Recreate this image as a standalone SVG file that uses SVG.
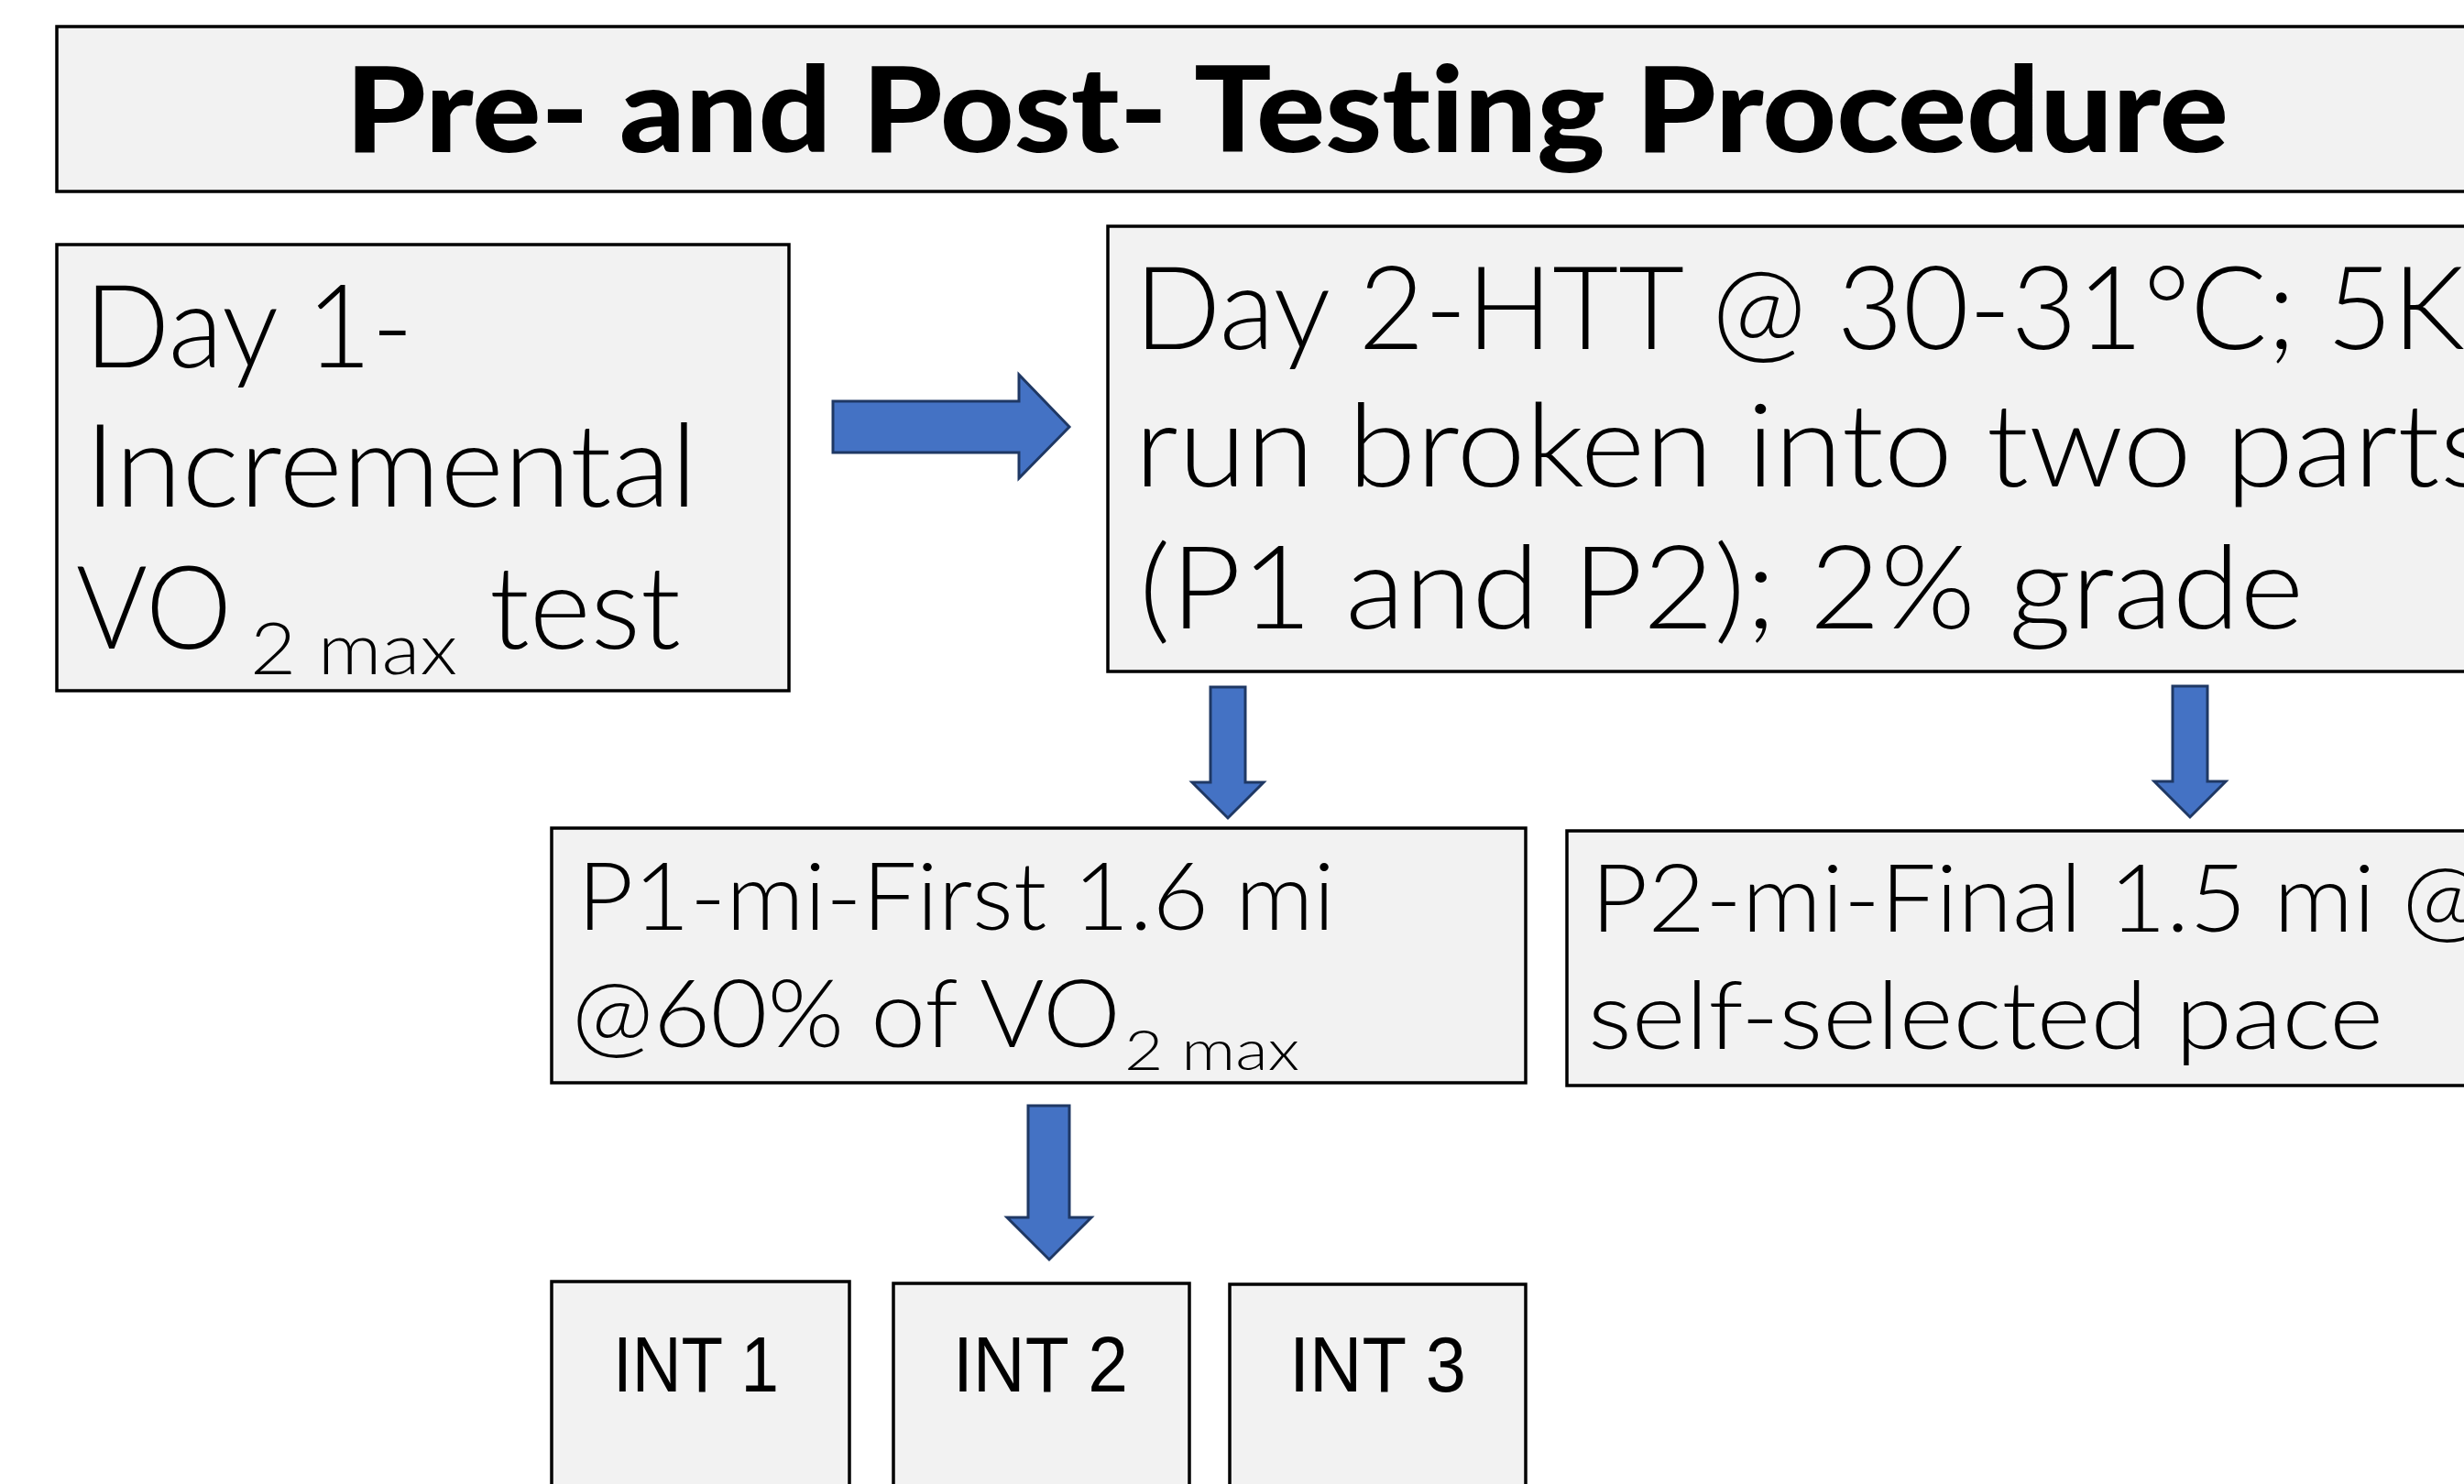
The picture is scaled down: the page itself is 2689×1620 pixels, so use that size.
<svg xmlns="http://www.w3.org/2000/svg" width="2689" height="1620" viewBox="0 0 2689 1620">
  <style>
    text { font-variant-ligatures: none; font-feature-settings: "liga" 0, "dlig" 0; }
    .box { fill: #F2F2F2; stroke: #000000; stroke-width: 3.5; }
    .arrow { fill: #4472C4; stroke: #1F3864; stroke-width: 3; stroke-linejoin: miter; }
    .title { font-family: "Lato", "Liberation Sans", sans-serif; font-weight: 900; font-size: 130px; fill: #000; }
    .big { font-family: "Lato", "Liberation Sans", sans-serif; font-weight: 300; font-size: 127px; fill: #000; }
    .mid { font-family: "Lato", "Liberation Sans", sans-serif; font-weight: 300; font-size: 103px; fill: #000; }
    .subbig { font-family: "Lato", "Liberation Sans", sans-serif; font-weight: 300; font-size: 78px; fill: #000; }
    .submid { font-family: "Lato", "Liberation Sans", sans-serif; font-weight: 300; font-size: 62px; fill: #000; }
    .int { font-family: "Liberation Sans", "Lato", sans-serif; font-weight: 400; font-size: 86px; fill: #000; }
  </style>
  <rect width="2689" height="1620" fill="#FFFFFF"/>

  <g id="title">
    <rect class="box" x="62" y="29" width="2700" height="180"/>
    <text class="title" x="377" y="166" textLength="2055" lengthAdjust="spacingAndGlyphs">Pre- and Post- Testing Procedure</text>
  </g>

  <g id="day1">
    <rect class="box" x="62" y="267" width="799" height="487"/>
    <text class="big" x="92" y="401" textLength="359" lengthAdjust="spacingAndGlyphs">Day 1-</text>
    <text class="big" x="92" y="553" textLength="669" lengthAdjust="spacingAndGlyphs">Incremental</text>
    <text class="big" x="83" y="708" textLength="170" lengthAdjust="spacingAndGlyphs">VO</text>
    <text class="subbig" x="273" y="736" textLength="226" lengthAdjust="spacingAndGlyphs">2 max</text>
    <text class="big" x="534" y="708" textLength="209" lengthAdjust="spacingAndGlyphs">test</text>
  </g>

  <g id="day2">
    <rect class="box" x="1209" y="247" width="1600" height="486"/>
    <text class="big" x="1238" y="381" textLength="1452" lengthAdjust="spacingAndGlyphs">Day 2-HTT @ 30-31°C; 5K</text>
    <text class="big" x="1238" y="531" textLength="1482" lengthAdjust="spacingAndGlyphs">run broken into two parts</text>
    <text class="big" x="1243" y="686" textLength="1271" lengthAdjust="spacingAndGlyphs">(P1 and P2); 2% grade</text>
  </g>

  <g id="p1">
    <rect class="box" x="602" y="904" width="1063" height="278"/>
    <text class="mid" x="630" y="1015" textLength="827" lengthAdjust="spacingAndGlyphs">P1-mi-First 1.6 mi</text>
    <text class="mid" x="624" y="1143" textLength="599" lengthAdjust="spacingAndGlyphs">@60% of VO</text>
    <text class="submid" x="1227" y="1168" textLength="191" lengthAdjust="spacingAndGlyphs">2 max</text>
  </g>

  <g id="p2">
    <rect class="box" x="1710" y="907" width="1100" height="278"/>
    <text class="mid" x="1736" y="1017" textLength="975" lengthAdjust="spacingAndGlyphs">P2-mi-Final 1.5 mi @</text>
    <text class="mid" x="1733" y="1145" textLength="868" lengthAdjust="spacingAndGlyphs">self-selected pace</text>
  </g>

  <g id="int1">
    <rect class="box" x="602" y="1399" width="325" height="300"/>
    <text class="int" x="669" y="1519" textLength="181" lengthAdjust="spacingAndGlyphs">INT 1</text>
  </g>
  <g id="int2">
    <rect class="box" x="975" y="1401" width="323" height="300"/>
    <text class="int" x="1040" y="1519" textLength="191" lengthAdjust="spacingAndGlyphs">INT 2</text>
  </g>
  <g id="int3">
    <rect class="box" x="1342" y="1402" width="323" height="300"/>
    <text class="int" x="1407" y="1519" textLength="193" lengthAdjust="spacingAndGlyphs">INT 3</text>
  </g>

  <g id="connectors">
    <polygon class="arrow" points="909,438 1112,438 1112,409 1167,466 1112,522 1112,494 909,494"/>
    <polygon class="arrow" points="1321,750 1359,750 1359,854 1379,854 1340,893 1301,854 1321,854"/>
    <polygon class="arrow" points="2371,749 2409,749 2409,853 2429,853 2390,892 2351,853 2371,853"/>
    <polygon class="arrow" points="1122,1207 1167,1207 1167,1329 1191,1329 1145,1375 1099,1329 1122,1329"/>
  </g>
</svg>
